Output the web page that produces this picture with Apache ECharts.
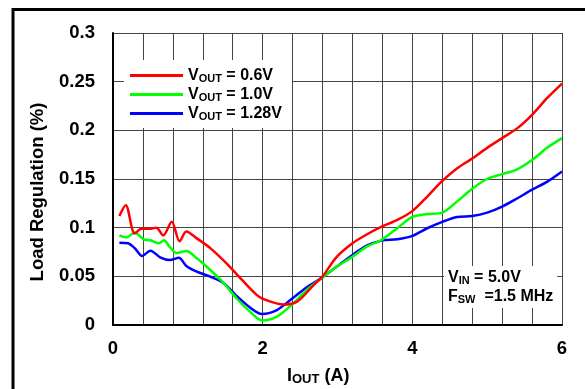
<!DOCTYPE html>
<html>
<head>
<meta charset="utf-8">
<script src="https://cdn.jsdelivr.net/npm/echarts@6/dist/echarts.min.js"></script>
<style>
  html, body { margin: 0; padding: 0; background: #fff; }
  #chart { width: 585px; height: 389px; }
</style>
</head>
<body>
<div id="chart"></div>
<script>
// Load regulation vs output current, three output voltages
const seriesNames = ['0.6V', '1.0V', '1.28V'];
const seriesColors = ['#ff0000', '#00ff00', '#0000ff'];

const iout06 = [0.085,0.17,0.29,0.38,0.5,0.58,0.67,0.785,0.89,0.98,1.12,1.3,1.52,1.74,1.92,2.0,2.28,2.46,2.68,2.8,2.99,3.2,3.39,3.59,3.8,4.0,4.2,4.4,4.6,4.8,5.0,5.2,5.4,5.6,5.8,6.0];
const reg06  = [0.112,0.123,0.094,0.099,0.099,0.100,0.092,0.106,0.086,0.096,0.089,0.079,0.063,0.045,0.031,0.027,0.021,0.024,0.041,0.050,0.070,0.084,0.093,0.101,0.108,0.117,0.132,0.148,0.161,0.171,0.182,0.192,0.202,0.216,0.233,0.248];

const iout10 = [0.085,0.18,0.29,0.41,0.5,0.61,0.68,0.76,0.85,0.98,1.12,1.3,1.48,1.65,1.83,2.0,2.19,2.37,2.59,2.8,2.99,3.2,3.39,3.59,3.8,4.0,4.2,4.4,4.6,4.8,5.0,5.2,5.4,5.6,5.8,6.0];
const reg10  = [0.092,0.090,0.095,0.088,0.087,0.084,0.087,0.080,0.074,0.076,0.0685,0.0565,0.043,0.0275,0.0137,0.0045,0.0085,0.0195,0.036,0.049,0.060,0.070,0.0805,0.0875,0.0995,0.111,0.114,0.1155,0.127,0.140,0.150,0.155,0.160,0.1695,0.182,0.192];

const iout128 = [0.085,0.2,0.29,0.39,0.5,0.63,0.76,0.88,0.98,1.12,1.3,1.48,1.65,1.83,1.99,2.19,2.37,2.59,2.8,2.99,3.2,3.39,3.59,3.8,4.0,4.2,4.4,4.6,4.8,5.0,5.2,5.4,5.6,5.8,6.0];
const reg128  = [0.0846,0.084,0.079,0.071,0.0764,0.0696,0.0668,0.069,0.0606,0.0548,0.0497,0.043,0.030,0.018,0.0113,0.0154,0.0257,0.0387,0.049,0.060,0.072,0.0815,0.0867,0.088,0.0915,0.0994,0.106,0.111,0.112,0.1154,0.1216,0.130,0.139,0.147,0.1576];

const xTickLabels = [0, 2, 4, 6];

const pairs = (xs, ys) => xs.map((x, i) => [x, ys[i]]);
const seriesData = [pairs(iout06, reg06), pairs(iout10, reg10), pairs(iout128, reg128)];

const FONT = 'Liberation Sans, Arial, sans-serif';
const chart = echarts.init(document.getElementById('chart'));

chart.setOption({
  animation: false,
  backgroundColor: '#fff',
  grid: { left: 113, top: 33, right: 23, bottom: 64 },
  xAxis: {
    type: 'value', min: 0, max: 6, interval: 0.4,
    axisLine: { show: true, lineStyle: { color: '#000', width: 2 } },
    axisTick: { show: false },
    splitLine: { show: true, lineStyle: { color: '#444', width: 1 } },
    axisLabel: {
      margin: 14, color: '#000', fontFamily: FONT, fontWeight: 'bold', fontSize: 18.5,
      formatter: v => {
        const r = Math.round(v);
        return (Math.abs(v - r) < 1e-6 && xTickLabels.indexOf(r) >= 0) ? String(r) : '';
      }
    }
  },
  yAxis: {
    type: 'value', min: 0, max: 0.3, interval: 0.05,
    axisLine: { show: true, lineStyle: { color: '#000', width: 2 } },
    axisTick: { show: false },
    splitLine: { show: true, lineStyle: { color: '#444', width: 1 } },
    axisLabel: {
      margin: 18, color: '#000', fontFamily: FONT, fontWeight: 'bold', fontSize: 18.5,
      formatter: v => String(+v.toFixed(2))
    }
  },
  legend: {
    left: 124, top: 60, orient: 'vertical',
    backgroundColor: '#fff', padding: [7, 10, 6, 6],
    itemWidth: 53, itemHeight: 3, itemGap: 2, icon: 'rect',
    data: seriesNames,
    formatter: n => '{v|V}{s|OUT}{v| = ' + n + '}',
    textStyle: {
      color: '#000', fontFamily: FONT, fontWeight: 'bold',
      rich: {
        v: { fontSize: 16, fontWeight: 'bold', fontFamily: FONT, color: '#000', lineHeight: 18 },
        s: { fontSize: 11, fontWeight: 'bold', fontFamily: FONT, color: '#000', padding: [6, 0, 0, 0], lineHeight: 18 }
      }
    }
  },
  graphic: [
    {
      type: 'rect', silent: true, z: 100,
      shape: { x: 13, y: 9.5, width: 700, height: 500 },
      style: { fill: 'none', stroke: '#000', lineWidth: 3 }
    },
    {
      // y-axis title, rotated
      type: 'text', x: 37.5, y: 192, rotation: Math.PI / 2,
      style: {
        text: 'Load Regulation (%)',
        fontFamily: FONT, fontWeight: 'bold', fontSize: 18.5, fill: '#000',
        align: 'center', verticalAlign: 'middle'
      }
    },
    {
      type: 'text', left: 444, top: 266, z: 50,
      style: {
        text: '{v|V}{s|IN}{v| = 5.0V}\n{v|F}{s|SW}{v|  =1.5 MHz}',
        backgroundColor: '#fff', padding: [2, 4, 2, 4],
        fontFamily: FONT, fontWeight: 'bold', fill: '#000',
        rich: {
          v: { fontSize: 16, fontWeight: 'bold', fontFamily: FONT, fill: '#000', lineHeight: 19 },
          s: { fontSize: 11, fontWeight: 'bold', fontFamily: FONT, fill: '#000', padding: [6, 0, 0, 0], lineHeight: 19 }
        }
      }
    },
    {
      type: 'text', left: 287, top: 366,
      style: {
        text: '{v|I}{s|OUT}{v| (A)}',
        fontFamily: FONT, fontWeight: 'bold', fill: '#000',
        rich: {
          v: { fontSize: 18, fontWeight: 'bold', fontFamily: FONT, fill: '#000', lineHeight: 21 },
          s: { fontSize: 13, fontWeight: 'bold', fontFamily: FONT, fill: '#000', padding: [7, 0, 0, 0], lineHeight: 21 }
        }
      }
    }
  ],
  series: seriesNames.map((n, i) => ({
    name: n, type: 'line', data: seriesData[i], smooth: 0.3,
    showSymbol: false, symbol: 'none',
    itemStyle: { color: seriesColors[i] },
    lineStyle: { color: seriesColors[i], width: 2.5 },
    z: 10 - i
  }))
});
</script>
</body>
</html>
